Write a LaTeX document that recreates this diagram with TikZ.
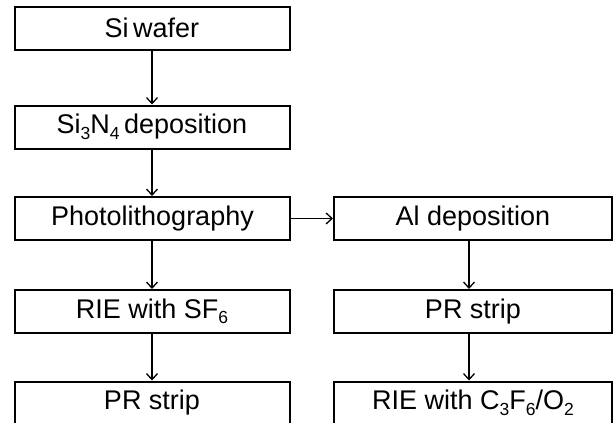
\documentclass[tikz,border=0pt]{standalone}
\usepackage{fontspec}
\setmainfont{Liberation Sans}
\usetikzlibrary{arrows.meta}
\newcommand{\lowsub}[1]{\raisebox{-0.2em}{\fontsize{17.5}{18}\selectfont #1}}
\begin{document}
\begin{tikzpicture}[x=1pt,y=-1pt,
  box/.style={draw=black, line width=2pt, minimum height=43pt, inner sep=0pt,
    font=\fontsize{27}{30}\selectfont, anchor=center},
  lbox/.style={box, minimum width=275pt},
  rbox/.style={box, minimum width=278pt},
  arr/.style={line width=1.3pt, -{Straight Barb[length=6pt,width=11pt,line width=1.3pt]}}]
\useasboundingbox (0,0) rectangle (614,423);
\clip (0,0) rectangle (614,423);
\node[lbox] (a) at (152,28) {Si\,wafer};
\node[lbox] (b) at (152,127) {Si\lowsub{3}N\lowsub{4}\,deposition};
\node[lbox] (c) at (152.5,218.5) {Photolithography};
\node[lbox] (d) at (152,311.5) {RIE with SF\lowsub{6}};
\node[lbox] (e) at (152,403) {PR strip};
\node[rbox] (f) at (473,218.5) {Al deposition};
\node[rbox] (g) at (473,311.5) {PR strip};
\node[rbox] (h) at (473,403) {RIE with C\lowsub{3}F\lowsub{6}/O\lowsub{2}};
\draw[arr] (a.south) -- (b.north);
\draw[arr] (b.south) -- (b.south |- c.north);
\draw[arr] (b.south |- c.south) -- (d.north);
\draw[arr] (d.south) -- (e.north);
\draw[arr] (c) -- (f);
\draw[arr] ([xshift=-4pt]f.south) -- ([xshift=-4pt]g.north);
\draw[arr] ([xshift=-4pt]g.south) -- ([xshift=-4pt]h.north);
\end{tikzpicture}
\end{document}
